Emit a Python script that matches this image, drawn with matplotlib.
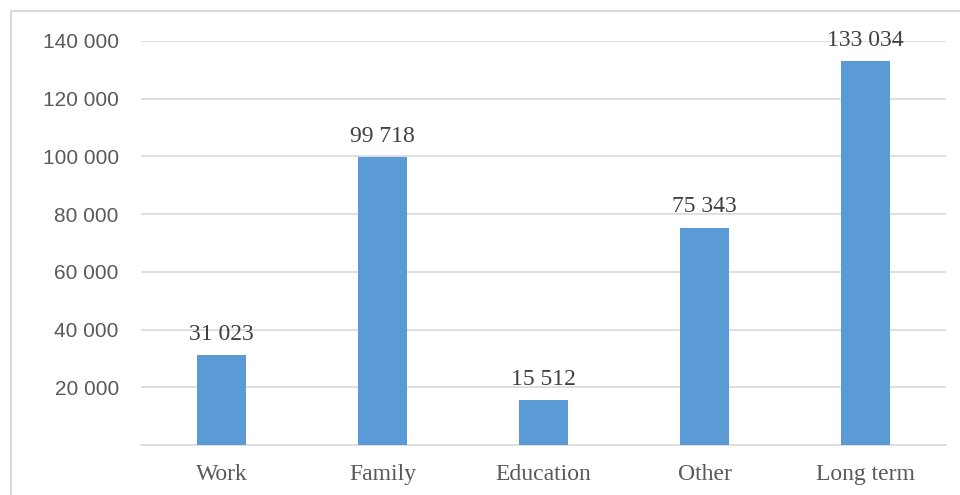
import matplotlib.pyplot as plt
from matplotlib.patches import Rectangle
from matplotlib.ticker import FuncFormatter

categories = ["Work", "Family", "Education", "Other", "Long term"]
values = [31023, 99718, 15512, 75343, 133034]
yticks = [20000, 40000, 60000, 80000, 100000, 120000, 140000]

W, H = 960, 495
fig = plt.figure(figsize=(W / 100, H / 100), dpi=100)
ax = fig.add_axes([141 / W, (H - 445) / H, (946 - 141) / W, (445 - 41) / H])

def spaced(v, pos=None):
    return f"{int(round(v)):,}".replace(",", " ")

x = range(len(categories))
bars = ax.bar(x, values, width=0.31, color="#5B9BD5", zorder=3)

for b, v in zip(bars, values):
    ax.text(b.get_x() + b.get_width() / 2, v + 3600, spaced(v),
            ha="center", va="bottom", fontsize=17, color="#404040",
            family="Liberation Serif")

ax.set_xlim(-0.5, len(categories) - 0.5)
ax.set_ylim(0, 140000)
ax.set_yticks(yticks)
ax.yaxis.set_major_formatter(FuncFormatter(spaced))
ax.set_xticks(list(x))
ax.set_xticklabels(categories, family="Liberation Serif", fontsize=17, color="#595959")
for lbl in ax.get_yticklabels():
    lbl.set_family("Liberation Sans")
    lbl.set_fontsize(15)
    lbl.set_color("#595959")

ax.grid(axis="y", color="#D9D9D9", linewidth=1.2, zorder=0)
ax.tick_params(axis="both", length=0)
ax.tick_params(axis="y", pad=16)
ax.tick_params(axis="x", pad=14)
for side in ["top", "right", "left"]:
    ax.spines[side].set_visible(False)
ax.spines["bottom"].set_color("#D9D9D9")
ax.spines["bottom"].set_linewidth(1.2)

# light frame around the whole chart area
fig.patches.append(Rectangle((11 / W, -0.1), 1.2, (H - 11) / H + 0.1,
                             transform=fig.transFigure, fill=False,
                             edgecolor="#D9D9D9", linewidth=1.5))

fig.savefig("out.png", dpi=100)
